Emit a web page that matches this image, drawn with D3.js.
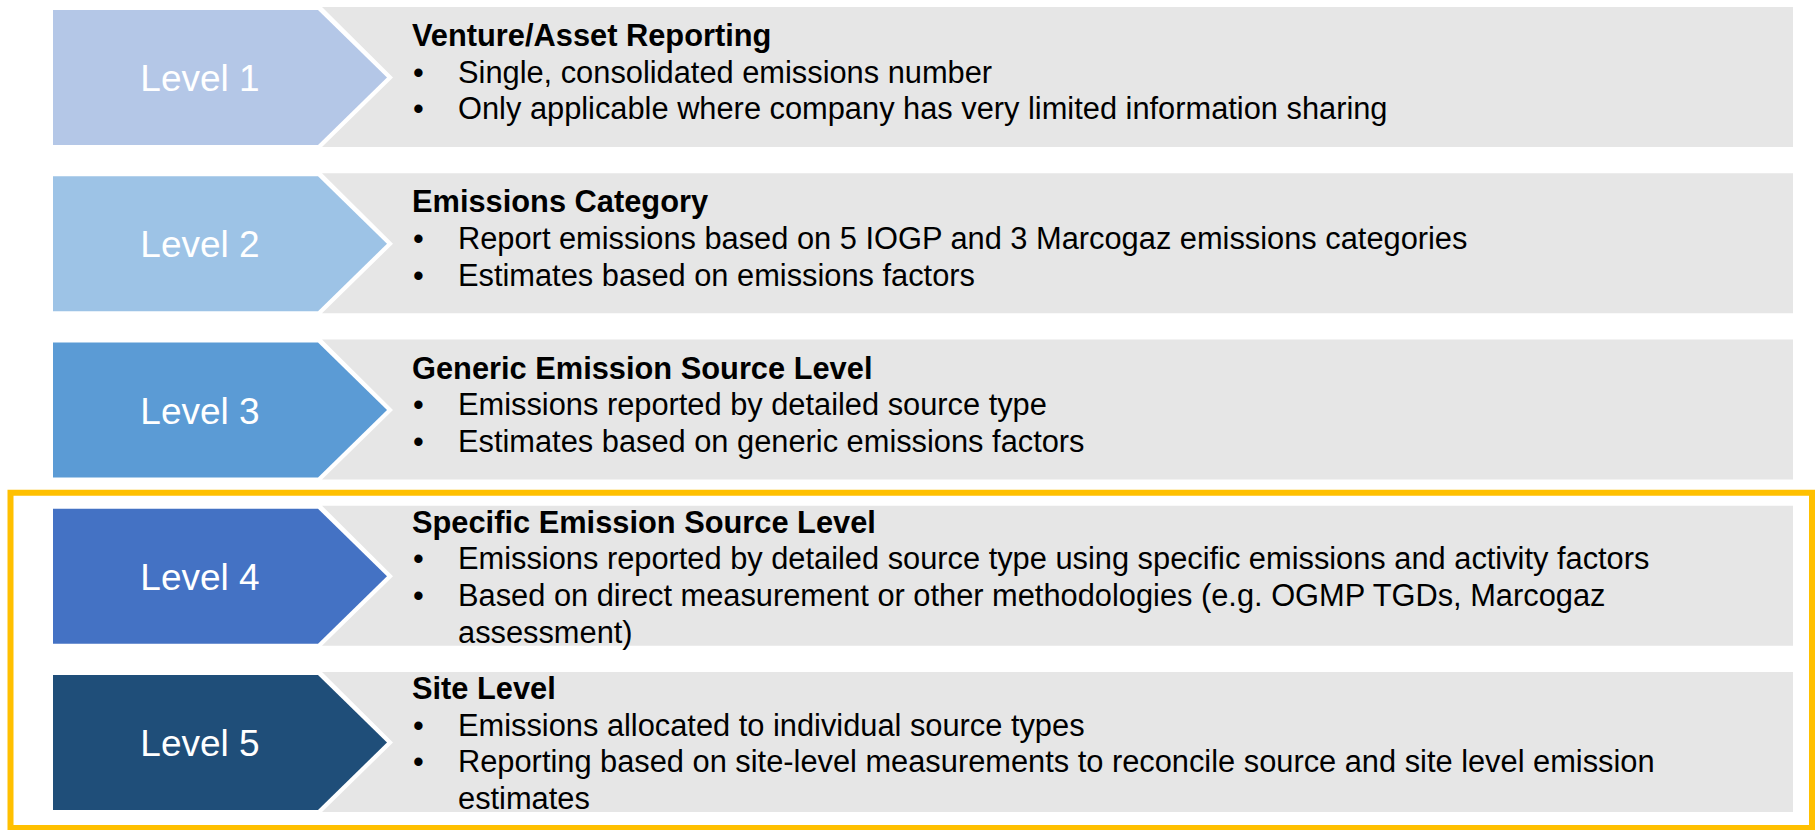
<!DOCTYPE html>
<html>
<head>
<meta charset="utf-8">
<script src="https://cdn.jsdelivr.net/npm/d3@7"></script>
<style>
  html, body { margin: 0; padding: 0; background: #ffffff; }
  svg { display: block; }
  text { font-family: "Liberation Sans", Arial, sans-serif; }
</style>
</head>
<body>
<svg id="chart" width="1815" height="830"></svg>
<script>
// ---- data ----
const levels = ["Level 1", "Level 2", "Level 3", "Level 4", "Level 5"];
const titles = [
  "Venture/Asset Reporting",
  "Emissions Category",
  "Generic Emission Source Level",
  "Specific Emission Source Level",
  "Site Level"
];
const bullets = [
  [["Single, consolidated emissions number"],
   ["Only applicable where company has very limited information sharing"]],
  [["Report emissions based on 5 IOGP and 3 Marcogaz emissions categories"],
   ["Estimates based on emissions factors"]],
  [["Emissions reported by detailed source type"],
   ["Estimates based on generic emissions factors"]],
  [["Emissions reported by detailed source type using specific emissions and activity factors"],
   ["Based on direct measurement or other methodologies (e.g. OGMP TGDs, Marcogaz", "assessment)"]],
  [["Emissions allocated to individual source types"],
   ["Reporting based on site-level measurements to reconcile source and site level emission", "estimates"]]
];
const highlighted = ["Level 4", "Level 5"];

// ---- styles ----
const colors = ["#b4c7e7", "#9dc3e6", "#5b9bd5", "#4472c4", "#1f4e79"];
const svg = d3.select("#chart");

const y = d3.scaleLinear().domain([0, 4]).range([10, 675]);
const color = d3.scaleOrdinal().domain(levels).range(colors);

const chevH = 135;
const chevL = 53, chevBody = 318, chevTip = 387;
const grayR = 1793;
const lineH = 36.7;
const fs = 30.8;

// highlight frame
const hiIdx = highlighted.map(l => levels.indexOf(l));
svg.append("rect")
  .attr("x", 10.5)
  .attr("y", y(d3.min(hiIdx)) - 16)
  .attr("width", 1812 - 10.5)
  .attr("height", 828 - (y(d3.min(hiIdx)) - 16))
  .attr("fill", "none")
  .attr("stroke", "#ffc000")
  .attr("stroke-width", 6);

const rows = svg.selectAll("g.row")
  .data(levels)
  .join("g")
  .attr("class", "row")
  .attr("transform", (d, i) => `translate(0,${y(i)})`);

// gray content box with notch
rows.append("path")
  .attr("d", () => {
    const t = -3, b = chevH + 2, m = chevH / 2;
    return `M${chevBody + 4},${t} L${grayR},${t} L${grayR},${b} L${chevBody + 4},${b} L${chevTip + 6},${m} Z`;
  })
  .attr("fill", "#e6e6e6");

// chevrons
rows.append("path")
  .attr("d", `M${chevL},0 L${chevBody},0 L${chevTip},${chevH / 2} L${chevBody},${chevH} L${chevL},${chevH} Z`)
  .attr("fill", d => color(d));

rows.append("text")
  .attr("x", 200)
  .attr("y", 81)
  .attr("text-anchor", "middle")
  .attr("fill", "#ffffff")
  .attr("font-size", 37)
  .text(d => d);

// text block
rows.each(function (d, i) {
  const g = d3.select(this);
  const lines = [];
  lines.push({ kind: "title", text: titles[i] });
  bullets[i].forEach(b => {
    b.forEach((t, k) => lines.push({ kind: "bullet", text: t, first: k === 0 }));
  });
  const firstBase = lines.length > 3 ? 24 : 36;
  lines.forEach((ln, j) => {
    const by = firstBase + j * lineH;
    if (ln.kind === "title") {
      g.append("text")
        .attr("x", 412).attr("y", by)
        .attr("font-size", fs).attr("font-weight", "bold")
        .attr("fill", "#000000")
        .text(ln.text);
    } else {
      if (ln.first) {
        g.append("text")
          .attr("x", 413).attr("y", by)
          .attr("font-size", fs)
          .attr("fill", "#000000")
          .text("\u2022");
      }
      g.append("text")
        .attr("x", 458).attr("y", by)
        .attr("font-size", fs)
        .attr("fill", "#000000")
        .text(ln.text);
    }
  });
});
</script>
</body>
</html>
